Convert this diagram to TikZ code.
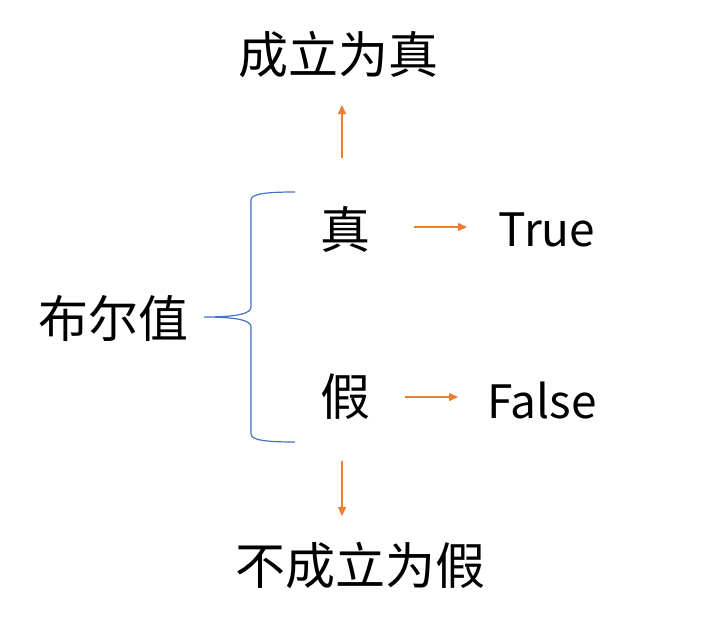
\documentclass[tikz,border=0pt]{standalone}
\usepackage{fontspec}
\setmainfont{Noto Sans CJK SC}
\usetikzlibrary{arrows.meta}
\definecolor{arrowor}{HTML}{ED7D31}
\definecolor{bracebl}{HTML}{4472C4}
\begin{document}
\begin{tikzpicture}[x=1pt,y=-1pt,
  lbl/.style={inner sep=0pt,font=\fontsize{50}{60}\selectfont},
  latin/.style={inner sep=0pt,font=\fontsize{46}{56}\selectfont},
  arr/.style={draw=arrowor,line width=1.5pt,-{Triangle[length=9pt,width=8pt]}},
  bracestyle/.style={draw=bracebl,line width=1.2pt}]
\useasboundingbox (0,0) rectangle (720,643);
\node[lbl] (top) at (338,55) {成立为真};
\node[lbl] (root) at (113,318) {布尔值};
\node[lbl] (bottom) at (360,566) {不成立为假};
\node[lbl] (zhen) at (345,229) {真};
\node[lbl] (jia) at (345,397) {假};
\node[latin] (true) at (547,230) {True};
\node[latin] (false) at (542,400) {False};
\coordinate (upS) at (342,158);
\coordinate (upE) at (342,105);
\coordinate (t1) at (414,227);
\coordinate (t2) at (467,227);
\coordinate (f1) at (405,397);
\coordinate (f2) at (458,397);
\coordinate (dnS) at (342,461);
\coordinate (dnE) at (342,516);
\draw[arr] (upS) -- (upE);
\draw[arr] (t1) -- (t2);
\draw[arr] (f1) -- (f2);
\draw[arr] (dnS) -- (dnE);
\draw[bracestyle] (295,192) .. controls (265,192) and (251,194) .. (251,200) -- (251,307)
  .. controls (251,313) and (240,317) .. (204,317)
  .. controls (240,317) and (251,321) .. (251,327) -- (251,434)
  .. controls (251,440) and (265,442) .. (295,442);
\end{tikzpicture}
\end{document}
